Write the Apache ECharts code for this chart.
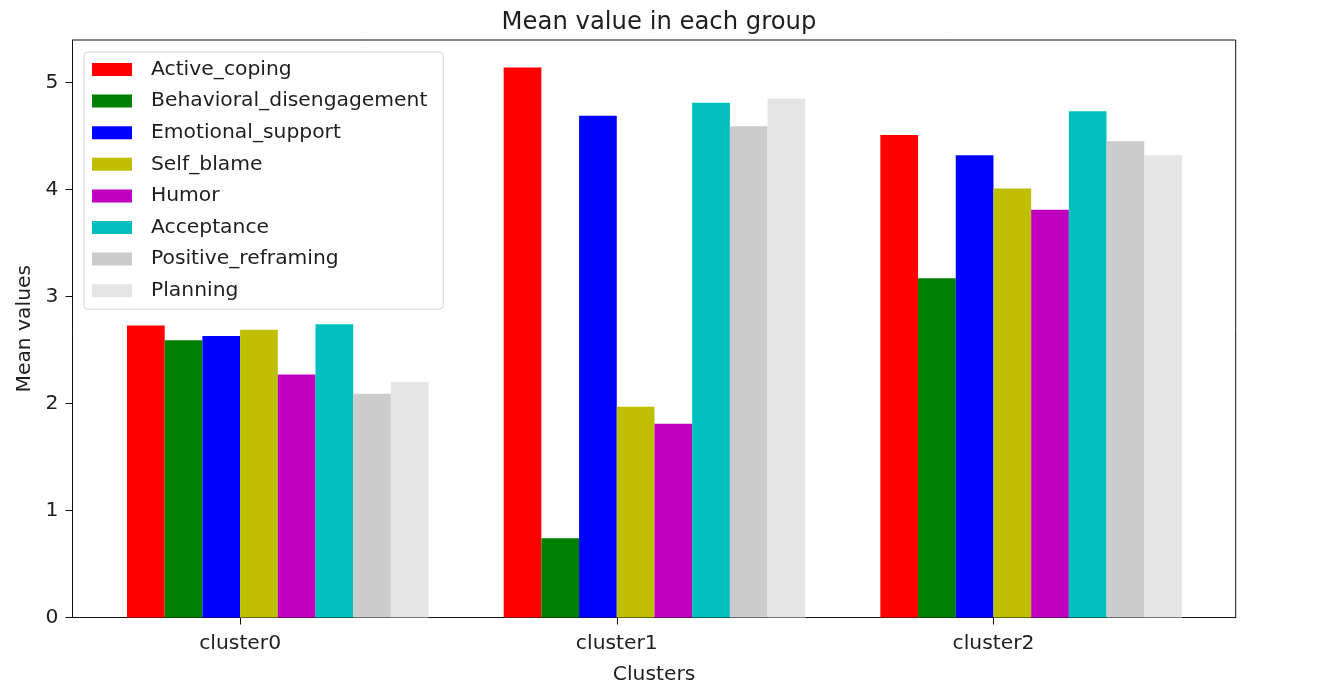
<!DOCTYPE html>
<html>
<head>
<meta charset="utf-8">
<script src="https://cdn.jsdelivr.net/npm/echarts@6/dist/echarts.min.js"></script>
<style>
  html, body { margin: 0; padding: 0; background: #fff; }
  #chart { width: 1337px; height: 699px; }
</style>
</head>
<body>
<div id="chart"></div>
<script>
const categories = ['cluster0', 'cluster1', 'cluster2']
const seriesNames = ['Active_coping', 'Behavioral_disengagement', 'Emotional_support', 'Self_blame',
  'Humor', 'Acceptance', 'Positive_reframing', 'Planning']
const activeCoping = [2.73, 5.14, 4.51]
const behavioralDisengagement = [2.59, 0.74, 3.17]
const emotionalSupport = [2.63, 4.69, 4.32]
const selfBlame = [2.69, 1.97, 4.01]
const humor = [2.27, 1.81, 3.81]
const acceptance = [2.74, 4.81, 4.73]
const positiveReframing = [2.09, 4.59, 4.45]
const planning = [2.20, 4.85, 4.32]
const yTicks = [0, 1, 2, 3, 4, 5]

const colorSet = ['#ff0000', '#008000', '#0000ff', '#bfbf00', '#bf00bf', '#00bfbf', '#cccccc', '#e5e5e5']
const allValues = [activeCoping, behavioralDisengagement, emotionalSupport, selfBlame,
  humor, acceptance, positiveReframing, planning]

const font = 'DejaVu Sans'
const fs = 20.3
const txt = '#1e1e1e'
const barW = 37.7

// each group of 8 bars starts 3 bars left of its tick (tick sits after the 3rd bar)
const series = seriesNames.map((name, k) => ({
  name: name,
  type: 'bar',
  barWidth: barW,
  barGap: '0%',
  itemStyle: { color: colorSet[k] },
  data: allValues[k].map((v, i) => [i + 0.1, v]),
}))

const option = {
  animation: false,
  title: {
    text: 'Mean value in each group',
    left: 654,
    top: 6,
    textAlign: 'center',
    textStyle: { fontFamily: font, fontSize: 24.3, fontWeight: 'normal', color: txt },
  },
  grid: {
    left: 72.5, right: 101.3, top: 40, bottom: 81.5,
    show: true, borderColor: '#111', borderWidth: 1, backgroundColor: 'transparent',
  },
  legend: {
    orient: 'vertical',
    left: 84,
    top: 52,
    padding: [7.5, 16, 8.5, 8],
    itemWidth: 40,
    itemHeight: 13,
    itemGap: 11.6,
    icon: 'rect',
    backgroundColor: 'rgba(255,255,255,0.8)',
    borderColor: '#d6d6d6',
    borderWidth: 1,
    borderRadius: 4,
    textStyle: { fontFamily: font, fontSize: fs, color: txt, padding: [0, 0, 0, 14] },
    data: seriesNames,
  },
  xAxis: {
    type: 'value',
    min: -0.445,
    max: 2.643,
    name: 'Clusters',
    nameLocation: 'middle',
    nameGap: 47,
    nameTextStyle: { fontFamily: font, fontSize: fs, color: txt },
    axisLine: { show: true, onZero: false, lineStyle: { color: '#111', width: 1 } },
    axisTick: { show: true, length: 7, lineStyle: { color: '#111' }, customValues: [0, 1, 2] },
    axisLabel: {
      fontFamily: font, fontSize: fs, color: txt, margin: 16,
      customValues: [0, 1, 2],
      formatter: v => categories[Math.round(v)],
    },
    splitLine: { show: false },
  },
  yAxis: {
    type: 'value',
    min: 0,
    max: 5.397,
    name: 'Mean values',
    nameLocation: 'middle',
    nameRotate: 90,
    nameGap: 37,
    nameTextStyle: { fontFamily: font, fontSize: fs, color: txt },
    axisLine: { show: true, onZero: false, lineStyle: { color: '#111', width: 1 } },
    axisTick: { show: true, length: 7, lineStyle: { color: '#111' }, customValues: yTicks },
    axisLabel: {
      fontFamily: font, fontSize: fs, color: txt, margin: 14,
      customValues: yTicks,
    },
    splitLine: { show: false },
  },
  series: series,
}

const chart = echarts.init(document.getElementById('chart'))
chart.setOption(option)
</script>
</body>
</html>
